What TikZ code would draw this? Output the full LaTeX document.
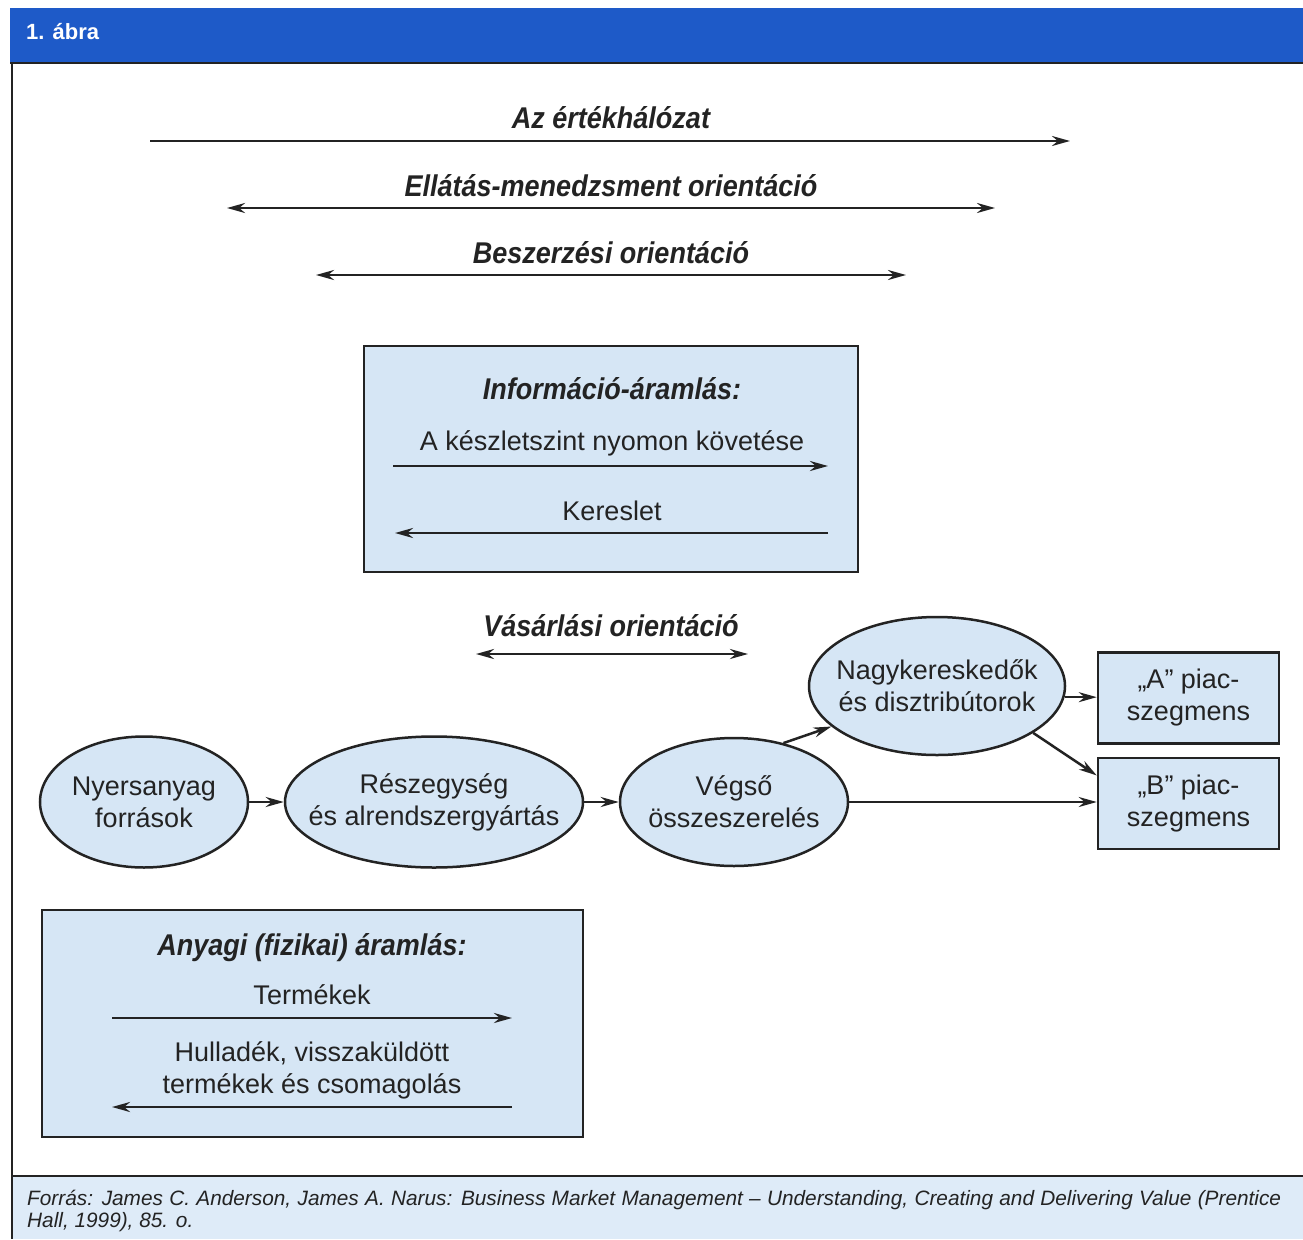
\documentclass[tikz,border=0pt]{standalone}
\usepackage{fontspec}
\setmainfont{Liberation Sans}
\newfontfamily\titlefont[FakeStretch=0.9]{Liberation Sans}
\usetikzlibrary{arrows.meta,shapes.geometric,calc}
\definecolor{hdrblue}{RGB}{30,90,200}
\definecolor{boxblue}{RGB}{214,230,245}
\definecolor{footblue}{RGB}{222,235,248}
\definecolor{ink}{RGB}{35,35,35}
\begin{document}
\begin{tikzpicture}[x=1pt,y=-1pt,
  body/.style={font=\fontsize{27}{32}\selectfont, align=center, inner sep=0pt, text=ink},
  ttl/.style={font=\titlefont\bfseries\itshape\fontsize{30}{34}\selectfont, inner sep=0pt, text=ink},
  ell/.style={ellipse, draw=ink, line width=2.5pt, fill=boxblue, inner sep=0pt},
  seg/.style={rectangle, draw=ink, line width=2.5pt, fill=boxblue, minimum width=181pt, minimum height=91pt, body},
  panel/.style={rectangle, draw=ink, line width=2.5pt, fill=boxblue, inner sep=0pt},
  arr/.style={draw=ink, line width=2.5pt, -{Stealth[length=18pt,width=10pt]}},
  darr/.style={draw=ink, line width=2.5pt, {Stealth[length=18pt,width=10pt]}-{Stealth[length=18pt,width=10pt]}}]
\useasboundingbox (0,0) rectangle (1303,1239);
\fill[white] (0,0) rectangle (1303,1239);
% header
\fill[hdrblue] (10,8) rectangle (1303,63);
\node[anchor=west, inner sep=0pt, text=white, font=\bfseries\fontsize{22}{26}\selectfont] (hdr) at (26,32) {1. ábra};
% footer
\fill[footblue] (12,1176) rectangle (1303,1239);
\draw[ink, line width=2.5pt] (12,1176) -- (1303,1176);
\draw[ink, line width=2pt] (10,63) -- (1303,63);
\draw[ink, line width=2pt] (12,63) -- (12,1239);
\node[anchor=west, inner sep=0pt, text=ink, font=\itshape\fontsize{20.8}{23}\selectfont] (src1) at (27,1200) {\makebox[1254pt][s]{Forrás: James C. Anderson, James A. Narus: Business Market Management – Understanding, Creating and Delivering Value (Prentice}};
\node[anchor=west, inner sep=0pt, text=ink, font=\itshape\fontsize{20.8}{23}\selectfont] (src2) at (27,1222) {Hall, 1999), 85. o.};
% orientation arrows
\node[ttl] (vn) at (611,118) {Az értékhálózat};
\coordinate (vnL) at (150,141); \coordinate (vnR) at (1070,141);
\draw[arr] (vnL) -- (vnR);
\node[ttl] (scm) at (611,186) {Ellátás-menedzsment orientáció};
\coordinate (scmL) at (227,208); \coordinate (scmR) at (995,208);
\draw[darr] (scmL) -- (scmR);
\node[ttl] (po) at (611,253) {Beszerzési orientáció};
\coordinate (poL) at (316,275); \coordinate (poR) at (906,275);
\draw[darr] (poL) -- (poR);
% information flow panel
\node[panel, minimum width=494pt, minimum height=226pt] (info) at (611,459) {};
\node[ttl] (infot) at (612,389) {Információ-áramlás:};
\node[body] (inv) at (612,443) {A készletszint nyomon követése};
\coordinate (invL) at (393,466); \coordinate (invR) at (828,466);
\draw[arr] (invL) -- (invR);
\node[body] (dem) at (612,511) {Kereslet};
\coordinate (demR) at (828,533); \coordinate (demL) at (395,533);
\draw[arr] (demR) -- (demL);
% buying orientation
\node[ttl] (bo) at (611,626) {Vásárlási orientáció};
\coordinate (boL) at (476,654); \coordinate (boR) at (748,654);
\draw[darr] (boL) -- (boR);
% chain
\node[ell, minimum width=208pt, minimum height=131pt, label={[body]center:Nyersanyag\\források}] (nyers) at (144,802) {};
\node[ell, minimum width=298pt, minimum height=131pt, label={[body]center:Részegység\\és alrendszergyártás}] (resz) at (434,802) {};
\node[ell, minimum width=228pt, minimum height=128pt, label={[body]center:Végső\\összeszerelés}] (vegso) at (734,802) {};
\node[ell, minimum width=256pt, minimum height=138pt, label={[body]center:Nagykereskedők\\és disztribútorok}] (nagy) at (937,686) {};
\node[seg] (a) at (1188.5,698) {„A” piac-\\szegmens};
\node[seg] (b) at (1188.5,803.5) {„B” piac-\\szegmens};
\draw[arr] (nyers) -- (resz);
\draw[arr] (resz) -- (vegso);
\draw[arr] (vegso.50) -- (nagy.201);
\draw[arr] (nagy.-5) -- (nagy.-5 -| a.west);
\draw[arr] (nagy.-26) -- ($(b.north west)!0.2!(b.south west)$);
\draw[arr] (vegso) -- (vegso -| b.west);
% material flow panel
\node[panel, minimum width=541pt, minimum height=227pt] (mat) at (312.5,1023.5) {};
\node[ttl] (matt) at (312,948) {Anyagi (fizikai) áramlás:};
\node[body] (prod) at (312,995) {Termékek};
\coordinate (prodL) at (112,1018); \coordinate (prodR) at (512,1018);
\draw[arr] (prodL) -- (prodR);
\node[body] (ret) at (312,1070) {Hulladék, visszaküldött\\termékek és csomagolás};
\coordinate (retR) at (512,1107); \coordinate (retL) at (112,1107);
\draw[arr] (retR) -- (retL);
\end{tikzpicture}
\end{document}
